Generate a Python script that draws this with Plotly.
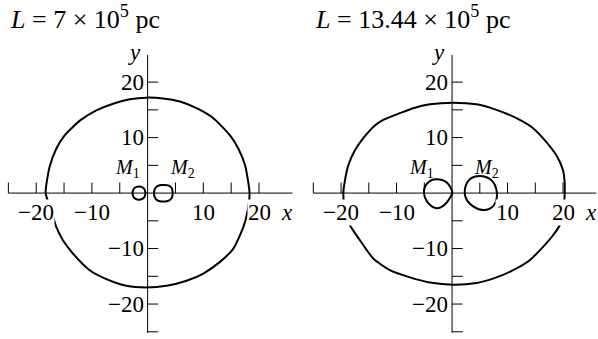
import plotly.graph_objects as go

# ---- data ---------------------------------------------------------------
titles = ["<i>L</i> = 7 × 10<sup>5</sup> pc", "<i>L</i> = 13.44 × 10<sup>5</sup> pc"]

# outer zero-velocity surface, panel 1 (L = 7e5 pc)
outer1_x = [-18.3, -17.6, -16.4, -14.9, -12.1, -9.2, -6.2, -3.2, -0.2, 2.8, 5.8, 8.8, 11.8, 14.8, 16.3, 17.5, 18.3,
            17.9, 17.2, 15.4, 13.0, 10.0, 7.0, 3.4, -0.2, -3.8, -7.4, -10.4, -13.4, -15.2, -16.4, -17.3, -18.3]
outer1_y = [0.0, 4.7, 8.0, 10.4, 13.1, 14.9, 16.1, 16.9, 17.2, 17.05, 16.5, 15.3, 13.5, 10.4, 8.0, 5.0, 0.0,
            -3.5, -6.1, -10.0, -12.4, -14.5, -15.8, -16.7, -17.0, -16.7, -15.5, -13.9, -10.9, -8.5, -6.1, -3.1, 0.0]

# inner loops around M1 and M2, panel 1
m1a_x = [-0.4, -0.55, -0.95, -1.55, -2.15, -2.55, -2.7, -2.55, -2.15, -1.55, -0.95, -0.55, -0.4]
m1a_y = [0.0, 0.65, 1.05, 1.2, 1.05, 0.65, 0.0, -0.65, -1.05, -1.2, -1.05, -0.65, 0.0]
m2a_x = [4.5, 4.35, 3.9, 3.2, 2.4, 1.75, 1.3, 1.15, 1.3, 1.75, 2.4, 3.2, 3.9, 4.35, 4.5]
m2a_y = [0.0, 0.85, 1.3, 1.45, 1.45, 1.25, 0.75, 0.0, -0.8, -1.3, -1.5, -1.5, -1.3, -0.85, 0.0]

# outer zero-velocity surface, panel 2 (L = 13.44e5 pc)
outer2_x = [-19.6, -19.3, -18.7, -17.5, -16.0, -13.9, -12.4, -9.4, -7.0, -4.0, 0.2, 4.4, 8.0, 11.6, 14.6, 17.0, 18.8,
            20.0, 20.3, 20.3, 20.1, 19.4, 18.2, 16.4, 14.0, 11.0, 8.0, 4.4, 0.2, -4.0, -7.6, -11.2, -14.2, -16.6,
            -18.4, -19.3, -19.6]
outer2_y = [0.0, 2.3, 5.0, 7.7, 9.9, 12.2, 13.2, 14.4, 15.3, 16.0, 16.3, 16.0, 15.0, 13.5, 11.7, 9.2, 6.8,
            4.1, 1.7, 0.0, -3.0, -5.8, -7.6, -9.7, -12.1, -13.9, -15.2, -16.2, -16.5, -16.1, -15.2, -13.9, -11.8, -8.5,
            -5.8, -3.0, 0.0]

# inner loops around M1 and M2, panel 2
m1b_x = [0.05, -0.25, -0.9, -1.8, -2.8, -3.8, -4.6, -5.0, -5.05, -4.8, -4.2, -3.4, -2.6, -1.8, -1.0, -0.4, 0.05]
m1b_y = [0.0, 0.95, 1.85, 2.35, 2.5, 2.3, 1.6, 0.8, 0.0, -1.0, -1.9, -2.55, -2.75, -2.45, -1.75, -0.9, 0.0]
m2b_x = [2.29, 2.45, 3.0, 3.9, 5.0, 6.1, 7.0, 7.7, 8.1, 8.0, 7.6, 6.9, 5.9, 4.8, 3.8, 3.0, 2.5, 2.29]
m2b_y = [0.0, 1.3, 2.3, 2.9, 3.1, 2.9, 2.4, 1.5, 0.0, -1.1, -2.1, -2.75, -3.05, -2.9, -2.4, -1.7, -0.9, 0.0]

# axes
tick_vals = [-25, -20, -15, -10, -5, 5, 10, 15, 20]
x_label_vals = [-20, -10, 10, 20]
y_label_vals = [20, 10, -10, -20]
x_axis_span = [-25, 26]
y_axis_span = [-25.2, 24.9]
m_label_x = [[-3.7, 6.25], [-5.45, 6.25]]

# ---- figure -------------------------------------------------------------
FONT = "Liberation Serif"
W, H = 598, 339
fig = go.Figure()

panels = [
    dict(xa="x", ya="y", curves=[(outer1_x, outer1_y), (m1a_x, m1a_y), (m2a_x, m2a_y)]),
    dict(xa="x2", ya="y2", curves=[(outer2_x, outer2_y), (m1b_x, m1b_y), (m2b_x, m2b_y)]),
]

shapes, annotations = [], []
for i, p in enumerate(panels):
    for cx, cy in p["curves"]:
        fig.add_trace(go.Scatter(x=cx, y=cy, mode="lines", xaxis=p["xa"], yaxis=p["ya"],
                                 line=dict(color="black", width=2, shape="spline", smoothing=0.6),
                                 hoverinfo="skip", showlegend=False))
    xr, yr = p["xa"], p["ya"]
    # axis lines through the origin
    shapes.append(dict(type="line", xref=xr, yref=yr, x0=x_axis_span[0], x1=x_axis_span[1], y0=0, y1=0,
                       line=dict(color="black", width=1)))
    shapes.append(dict(type="line", xref=xr, yref=yr, x0=0, x1=0, y0=y_axis_span[0], y1=y_axis_span[1],
                       line=dict(color="black", width=1)))
    # ticks: upward on x axis, rightward on y axis
    for t in tick_vals:
        shapes.append(dict(type="line", xref=xr, yref=yr, x0=t, x1=t, y0=0, y1=1.9,
                           line=dict(color="black", width=1)))
        shapes.append(dict(type="line", xref=xr, yref=yr, x0=0, x1=1.9, y0=t, y1=t,
                           line=dict(color="black", width=1)))
    for v in x_label_vals:
        annotations.append(dict(xref=xr, yref=yr, x=v, y=0, yshift=-19, showarrow=False,
                                text=("−%d" % -v) if v < 0 else str(v), bgcolor="white",
                                font=dict(family=FONT, size=23, color="black"), borderpad=0))
    for v in y_label_vals:
        annotations.append(dict(xref=xr, yref=yr, x=0, y=v, xshift=-3, xanchor="right", showarrow=False,
                                text=("−%d" % -v) if v < 0 else str(v),
                                font=dict(family=FONT, size=23, color="black"), borderpad=0))
    annotations.append(dict(xref=xr, yref=yr, x=25.1, y=0, yshift=-19, showarrow=False, text="x",
                            bgcolor="white", borderpad=0,
                            font=dict(family=FONT, size=23, color="black", style="italic")))
    annotations.append(dict(xref=xr, yref=yr, x=-2.4, y=25.3, showarrow=False, text="y",
                            font=dict(family=FONT, size=23, color="black", style="italic")))
    for k, mx in enumerate(m_label_x[i]):
        annotations.append(dict(xref=xr, yref=yr, x=mx, y=4.5, showarrow=False,
                                text="<i>M</i><sub>%d</sub>" % (k + 1),
                                font=dict(family=FONT, size=20, color="black")))

# panel titles
for px, txt in zip([8, 313], titles):
    annotations.append(dict(xref="paper", yref="paper", x=px / W, y=1 - 17 / H, xanchor="left",
                            yanchor="middle", showarrow=False, text=txt,
                            font=dict(family=FONT, size=26, color="black")))

yrange = [-26.3, 34.8]
fig.update_layout(
    width=W, height=H, margin=dict(l=0, r=0, t=0, b=0),
    paper_bgcolor="white", plot_bgcolor="white",
    xaxis=dict(domain=[0, 298 / W], range=[-26.5, 27.0], visible=False),
    yaxis=dict(domain=[0, 1], range=yrange, visible=False),
    xaxis2=dict(domain=[305 / W, 1], range=[-26.5, 26.3], visible=False),
    yaxis2=dict(domain=[0, 1], range=yrange, visible=False, anchor="x2"),
    shapes=shapes, annotations=annotations, showlegend=False,
)
fig.write_html("out.html")
